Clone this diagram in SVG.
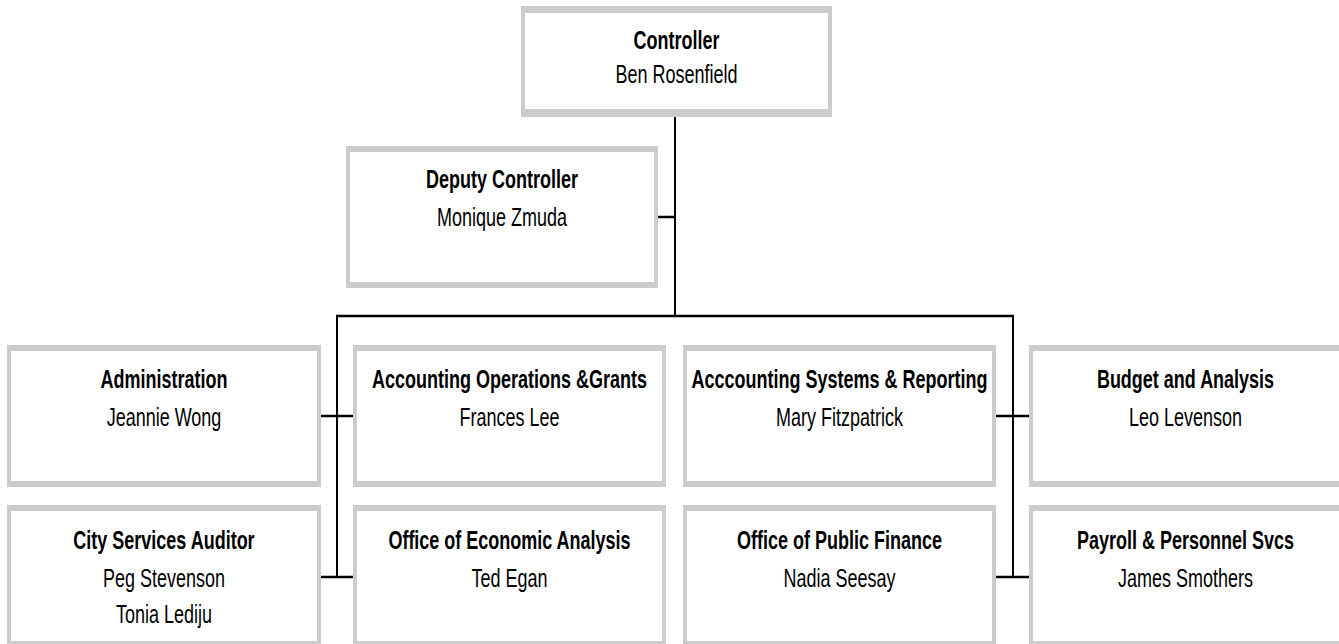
<svg xmlns="http://www.w3.org/2000/svg" width="1339" height="644" viewBox="0 0 1339 644">
<style>
.bo{fill:#cccccc}
.bi{fill:#ffffff}
.t{font-family:"Liberation Sans",Arial,sans-serif;font-size:25px;text-anchor:middle;fill:#000}
.h{font-weight:bold}
.c{stroke:#000;stroke-width:2;fill:none}
.s{stroke:#000;stroke-width:2.5;fill:none}
</style>
<rect width="1339" height="644" fill="#ffffff"/>
<g id="connectors">
<line class="c" x1="675" y1="117" x2="675" y2="316"/>
<line class="s" x1="658" y1="217" x2="675" y2="217"/>
<line class="s" x1="336" y1="316" x2="1014" y2="316"/>
<line class="c" x1="337" y1="316" x2="337" y2="577"/>
<line class="s" x1="321" y1="416" x2="353" y2="416"/>
<line class="s" x1="321" y1="577" x2="353" y2="577"/>
<line class="c" x1="1013" y1="316" x2="1013" y2="577"/>
<line class="s" x1="996" y1="416" x2="1029" y2="416"/>
<line class="s" x1="996" y1="577" x2="1029" y2="577"/>
</g>
<g id="controller">
<rect class="bo" x="521" y="6" width="311" height="111"/>
<rect class="bi" x="525" y="13" width="303" height="96"/>
<text class="t h" transform="translate(676.5,49) scale(0.72,1)">Controller</text>
<text class="t" transform="translate(676.5,83) scale(0.72,1)">Ben Rosenfield</text>
</g>
<g id="deputy">
<rect class="bo" x="346" y="146" width="312" height="142"/>
<rect class="bi" x="350" y="152" width="304" height="130"/>
<text class="t h" transform="translate(502,188) scale(0.72,1)">Deputy Controller</text>
<text class="t" transform="translate(502,226) scale(0.72,1)">Monique Zmuda</text>
</g>
<g id="administration">
<rect class="bo" x="7" y="345" width="314" height="142"/>
<rect class="bi" x="11" y="351" width="306" height="130"/>
<text class="t h" transform="translate(164,388) scale(0.72,1)">Administration</text>
<text class="t" transform="translate(164,426) scale(0.72,1)">Jeannie Wong</text>
</g>
<g id="accounting-ops">
<rect class="bo" x="353" y="345" width="313" height="142"/>
<rect class="bi" x="357" y="351" width="305" height="130"/>
<text class="t h" transform="translate(509.5,388) scale(0.72,1)">Accounting Operations &amp;Grants</text>
<text class="t" transform="translate(509.5,426) scale(0.72,1)">Frances Lee</text>
</g>
<g id="accounting-systems">
<rect class="bo" x="683" y="345" width="313" height="142"/>
<rect class="bi" x="687" y="351" width="305" height="130"/>
<text class="t h" transform="translate(839.5,388) scale(0.72,1)">Acccounting Systems &amp; Reporting</text>
<text class="t" transform="translate(839.5,426) scale(0.72,1)">Mary Fitzpatrick</text>
</g>
<g id="budget">
<rect class="bo" x="1029" y="345" width="320" height="142"/>
<rect class="bi" x="1033" y="351" width="312" height="130"/>
<text class="t h" transform="translate(1185.5,388) scale(0.72,1)">Budget and Analysis</text>
<text class="t" transform="translate(1185.5,426) scale(0.72,1)">Leo Levenson</text>
</g>
<g id="city-services">
<rect class="bo" x="7" y="505" width="314" height="142"/>
<rect class="bi" x="11" y="511" width="306" height="130"/>
<text class="t h" transform="translate(164,549) scale(0.72,1)">City Services Auditor</text>
<text class="t" transform="translate(164,587) scale(0.72,1)">Peg Stevenson</text>
<text class="t" transform="translate(164,623) scale(0.72,1)">Tonia Lediju</text>
</g>
<g id="economic-analysis">
<rect class="bo" x="353" y="505" width="313" height="142"/>
<rect class="bi" x="357" y="511" width="305" height="130"/>
<text class="t h" transform="translate(509.5,549) scale(0.72,1)">Office of Economic Analysis</text>
<text class="t" transform="translate(509.5,587) scale(0.72,1)">Ted Egan</text>
</g>
<g id="public-finance">
<rect class="bo" x="683" y="505" width="313" height="142"/>
<rect class="bi" x="687" y="511" width="305" height="130"/>
<text class="t h" transform="translate(839.5,549) scale(0.72,1)">Office of Public Finance</text>
<text class="t" transform="translate(839.5,587) scale(0.72,1)">Nadia Seesay</text>
</g>
<g id="payroll">
<rect class="bo" x="1029" y="505" width="320" height="142"/>
<rect class="bi" x="1033" y="511" width="312" height="130"/>
<text class="t h" transform="translate(1185.5,549) scale(0.72,1)">Payroll &amp; Personnel Svcs</text>
<text class="t" transform="translate(1185.5,587) scale(0.72,1)">James Smothers</text>
</g>
</svg>
